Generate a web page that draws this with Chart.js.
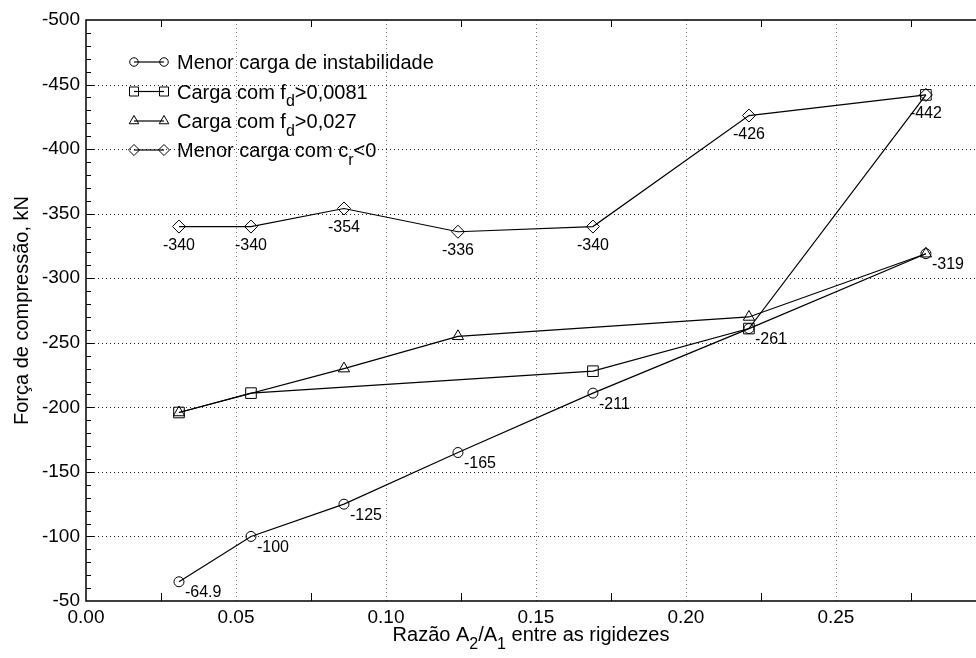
<!DOCTYPE html>
<html>
<head>
<meta charset="utf-8">
<title>Força de compressão x razão entre rigidezes</title>
<script src="https://cdn.jsdelivr.net/npm/chart.js@4.4.1/dist/chart.umd.min.js"></script>
<style>
  html, body { margin: 0; padding: 0; background: #fff; }
  #chart { display: block; }
</style>
</head>
<body>
<canvas id="chart" width="976" height="658"></canvas>
<script>
// Razão A2/A1 (x) for each series
const ratios = [0.031, 0.055, 0.086, 0.124, 0.169, 0.221, 0.28];
const minInstab = [-64.9, -100, -125, -165, -211, -261, -319];

const fd0081Ratios = [0.031, 0.055, 0.169, 0.221, 0.28];
const fd0081Loads = [-196, -211, -228, -261, -442];

const fd027Ratios = [0.031, 0.086, 0.124, 0.221, 0.28];
const fd027Loads = [-196, -230, -255, -270, -319];

const crNegLoads = [-340, -340, -354, -336, -340, -426, -442];

// Axis ticks
const xTicks = [0, 0.05, 0.10, 0.15, 0.20, 0.25];
const yTicks = [-500, -450, -400, -350, -300, -250, -200, -150, -100, -50];

// Legend entries (text split into normal / subscript parts)
const legendItems = [
    { style: 'circle', parts: [{ t: 'Menor carga de instabilidade' }] },
    { style: 'rect', parts: [{ t: 'Carga com f' }, { t: 'd', sub: true }, { t: '>0,0081' }] },
    { style: 'triangle', parts: [{ t: 'Carga com f' }, { t: 'd', sub: true }, { t: '>0,027' }] },
    { style: 'rectRot', parts: [{ t: 'Menor carga com c' }, { t: 'r', sub: true }, { t: '<0' }] }
];
const xTitleParts = [
    { t: 'Razão A' }, { t: '2', sub: true }, { t: '/A' }, { t: '1', sub: true }, { t: ' entre as rigidezes' }
];

const fontFamily = "'Liberation Sans', Arial, Helvetica, sans-serif";
const pointSizes = { circle: 5, rect: 7.5, triangle: 6.5, rectRot: 6.5 };

function toPoints(xs, ys) {
    return xs.map((x, i) => ({ x: x, y: ys[i] }));
}

function makeSeries(label, xs, ys, style) {
    return {
        label: label,
        data: toPoints(xs, ys),
        showLine: true,
        borderColor: '#000',
        borderWidth: 1.2,
        tension: 0,
        pointStyle: style,
        pointRadius: pointSizes[style],
        pointBorderColor: '#000',
        pointBackgroundColor: 'rgba(0,0,0,0)',
        pointBorderWidth: 1,
        clip: false
    };
}

// Draw text with subscripts
function drawRich(ctx, parts, x, y, size, align) {
    const subSize = Math.round(size * 0.78);
    let total = 0;
    parts.forEach(p => {
        ctx.font = (p.sub ? subSize : size) + 'px ' + fontFamily;
        p.w = ctx.measureText(p.t).width;
        total += p.w;
    });
    let cx = align === 'center' ? x - total / 2 : x;
    ctx.textAlign = 'left';
    ctx.textBaseline = 'alphabetic';
    parts.forEach(p => {
        ctx.font = (p.sub ? subSize : size) + 'px ' + fontFamily;
        ctx.fillText(p.t, cx, p.sub ? y + size * 0.38 : y);
        cx += p.w;
    });
}

function drawMarker(ctx, style, radius, x, y) {
    const opts = { pointStyle: style, radius: radius, rotation: 0, borderWidth: 1 };
    ctx.strokeStyle = '#000';
    ctx.fillStyle = 'rgba(0,0,0,0)';
    ctx.lineWidth = 1;
    Chart.helpers.drawPoint(ctx, opts, x, y);
}

// Frame, dotted grid and inward tick marks
const frameAndGrid = {
    id: 'frameAndGrid',
    beforeDatasetsDraw(chart) {
        const { ctx, chartArea: a, scales: { x, y } } = chart;
        ctx.save();
        ctx.lineWidth = 1;
        ctx.setLineDash([1, 3]);
        ctx.strokeStyle = '#222';
        yTicks.forEach(v => {
            if (v === -500 || v === -50) return;
            const py = Math.round(y.getPixelForValue(v)) + 0.5;
            ctx.beginPath();
            ctx.moveTo(a.left, py);
            ctx.lineTo(a.right, py);
            ctx.stroke();
        });
        ctx.strokeStyle = '#777';
        xTicks.forEach(v => {
            if (v === 0) return;
            const px = Math.round(x.getPixelForValue(v)) + 0.5;
            ctx.beginPath();
            ctx.moveTo(px, a.top);
            ctx.lineTo(px, a.bottom);
            ctx.stroke();
        });
        ctx.setLineDash([]);

        // minor ticks on x (bottom and top)
        ctx.strokeStyle = '#000';
        for (let v = 0.025; v < x.max; v += 0.05) {
            const px = Math.round(x.getPixelForValue(v)) + 0.5;
            ctx.beginPath();
            ctx.moveTo(px, a.bottom);
            ctx.lineTo(px, a.bottom - 8);
            ctx.moveTo(px, a.top);
            ctx.lineTo(px, a.top + 7);
            ctx.stroke();
        }
        // minor ticks on y
        for (let v = -490; v < -50; v += 10) {
            const py = Math.round(y.getPixelForValue(v)) + 0.5;
            const len = v % 50 === 0 ? 8 : 5;
            ctx.beginPath();
            ctx.moveTo(a.left, py);
            ctx.lineTo(a.left + len, py);
            ctx.stroke();
        }

        // frame
        ctx.lineWidth = 1.5;
        ctx.beginPath();
        ctx.moveTo(a.right, a.top);
        ctx.lineTo(a.left, a.top);
        ctx.lineTo(a.left, a.bottom);
        ctx.lineTo(a.right, a.bottom);
        ctx.stroke();
        ctx.restore();
    }
};

// Value labels next to circles and under diamonds
const valueLabels = {
    id: 'valueLabels',
    afterDatasetsDraw(chart) {
        const ctx = chart.ctx;
        ctx.save();
        ctx.fillStyle = '#000';
        ctx.font = '16px ' + fontFamily;
        ctx.textBaseline = 'middle';

        chart.getDatasetMeta(0).data.forEach((pt, i) => {
            ctx.textAlign = 'left';
            ctx.fillText(String(minInstab[i]), pt.x + 6, pt.y + 11);
        });
        chart.getDatasetMeta(3).data.forEach((pt, i) => {
            ctx.textAlign = 'center';
            ctx.fillText(String(crNegLoads[i]), pt.x, pt.y + 19);
        });
        ctx.restore();
    }
};

// Legend and x axis title (with subscripts)
const legendAndTitle = {
    id: 'legendAndTitle',
    afterDraw(chart) {
        const { ctx, chartArea: a } = chart;
        ctx.save();
        ctx.fillStyle = '#000';
        const rowY = [62, 91.5, 121, 150];
        legendItems.forEach((item, i) => {
            const yy = rowY[i];
            ctx.strokeStyle = '#000';
            ctx.lineWidth = 1.2;
            ctx.beginPath();
            ctx.moveTo(134, yy);
            ctx.lineTo(164, yy);
            ctx.stroke();
            const r = pointSizes[item.style] * 0.85;
            drawMarker(ctx, item.style, r, 134, yy);
            drawMarker(ctx, item.style, r, 164, yy);
            ctx.fillStyle = '#000';
            drawRich(ctx, item.parts, 177, yy + 7, 20, 'left');
        });
        drawRich(ctx, xTitleParts, (a.left + a.right) / 2, 641, 20, 'center');
        ctx.restore();
    }
};

const ctx = document.getElementById('chart').getContext('2d');
new Chart(ctx, {
    type: 'scatter',
    data: {
        datasets: [
            makeSeries('Menor carga de instabilidade', ratios, minInstab, 'circle'),
            makeSeries('Carga com fd>0,0081', fd0081Ratios, fd0081Loads, 'rect'),
            makeSeries('Carga com fd>0,027', fd027Ratios, fd027Loads, 'triangle'),
            makeSeries('Menor carga com cr<0', ratios, crNegLoads, 'rectRot')
        ]
    },
    options: {
        responsive: false,
        devicePixelRatio: 1,
        animation: false,
        events: [],
        layout: {
            autoPadding: false,
            padding: { top: 20, right: 0, bottom: 0, left: 0 }
        },
        plugins: {
            legend: { display: false },
            tooltip: { enabled: false }
        },
        scales: {
            x: {
                type: 'linear',
                min: 0,
                max: 0.2967,
                afterBuildTicks: axis => { axis.ticks = xTicks.map(v => ({ value: v })); },
                afterFit: axis => {
                    axis.height = 57;
                    axis.paddingLeft = 0;
                    axis.paddingRight = 0;
                },
                grid: { display: false, drawTicks: false },
                border: { display: false },
                ticks: {
                    padding: 5,
                    color: '#000',
                    font: { family: fontFamily, size: 19 },
                    maxRotation: 0,
                    callback: v => v.toFixed(2)
                }
            },
            y: {
                type: 'linear',
                min: -500,
                max: -50,
                reverse: true,
                afterBuildTicks: axis => { axis.ticks = yTicks.map(v => ({ value: v })); },
                afterFit: axis => { axis.width = 86; },
                grid: { display: false, drawTicks: false },
                border: { display: false },
                ticks: {
                    padding: 6,
                    color: '#000',
                    font: { family: fontFamily, size: 19 },
                    callback: v => String(v)
                },
                title: {
                    display: true,
                    text: 'Força de compressão, kN',
                    color: '#000',
                    font: { family: fontFamily, size: 20 },
                    padding: { top: 10, bottom: 0 }
                }
            }
        }
    },
    plugins: [frameAndGrid, valueLabels, legendAndTitle]
});
</script>
</body>
</html>
